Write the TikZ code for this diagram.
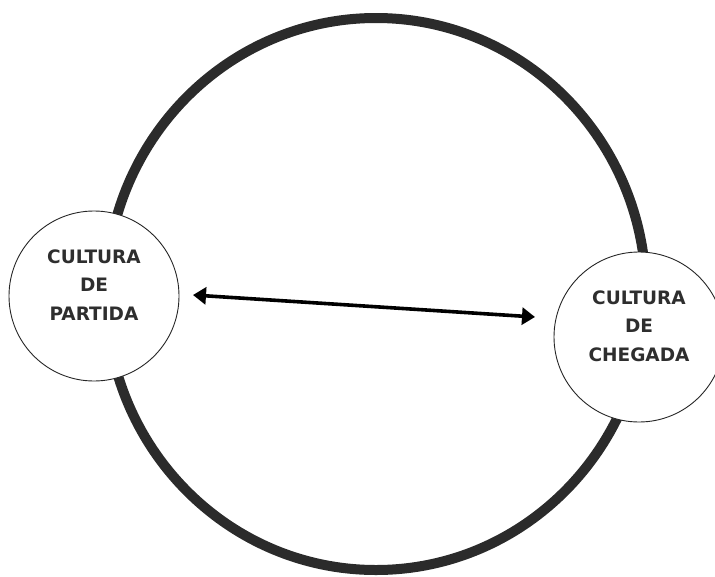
\documentclass[tikz,border=0pt]{standalone}
\usepackage{fontspec}
\setmainfont{DejaVu Sans}
\usetikzlibrary{arrows.meta}
\definecolor{ringgray}{HTML}{2B2B2B}
\definecolor{textgray}{HTML}{2E2E2E}
\tikzset{
  ring/.style={draw=ringgray, line width=10pt},
  culture/.style={circle, draw=black!85, line width=0.9pt, fill=white,
    minimum size=170pt, inner sep=0pt},
  culturetext/.style={align=center, text=textgray, inner sep=0pt,
    font=\bfseries\fontsize{18.5}{28.5}\selectfont},
  exchange/.style={draw=black, line width=3.6pt,
    {Triangle[length=13pt,width=17pt]}-{Triangle[length=13pt,width=17pt]}}
}
\begin{document}
\begin{tikzpicture}[x=1pt,y=-1pt]
  \useasboundingbox (0,0) rectangle (715,576);
  % the cycle between the two cultures
  \draw[ring] (376,294) ellipse [x radius=270, y radius=276];
  % departure and arrival cultures
  \node[culture] (partida) at (94,296) {};
  \node[culture] (chegada) at (639,337) {};
  \node[culturetext] (partidatxt) at ([yshift=11pt]partida.center) {CULTURA\\DE\\PARTIDA};
  \node[culturetext] (chegadatxt) at ([yshift=11pt]chegada.center) {CULTURA\\DE\\CHEGADA};
  % two-way exchange
  \coordinate (ea) at (193,295);
  \coordinate (eb) at (535,317);
  \draw[exchange] (ea) -- (eb);
\end{tikzpicture}
\end{document}
